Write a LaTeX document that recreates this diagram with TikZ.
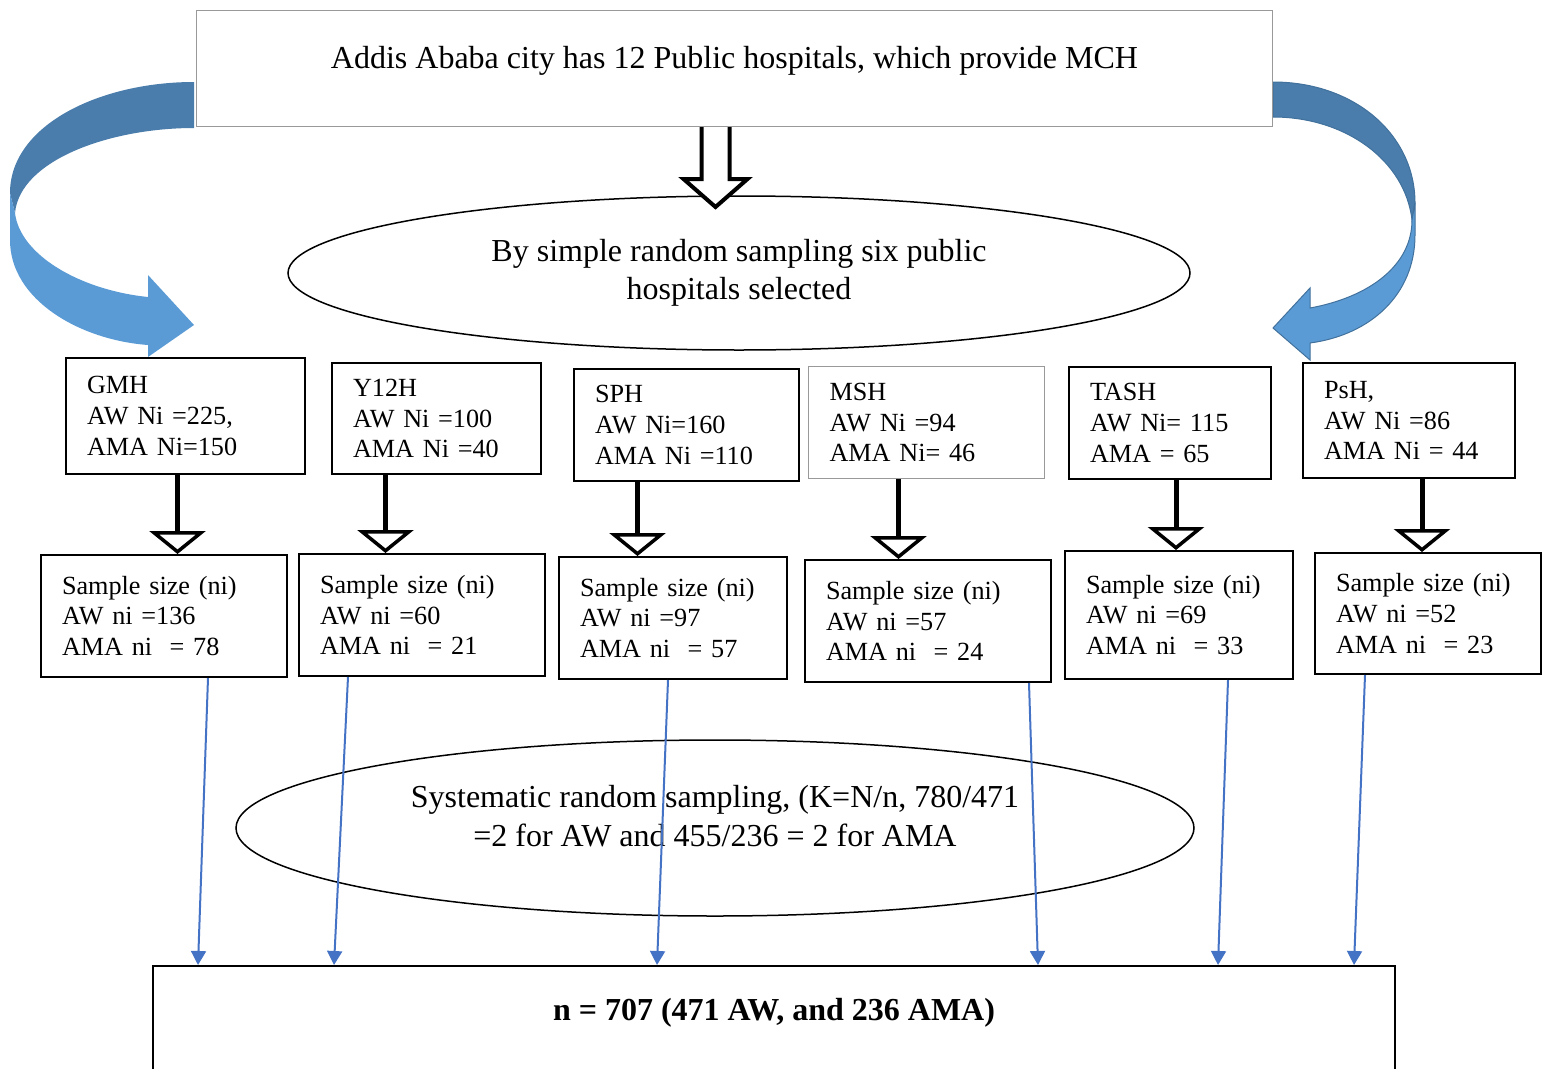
\documentclass[tikz,border=0pt]{standalone}
\usepackage{fontspec}
\setmainfont{Liberation Serif}
\usetikzlibrary{positioning,arrows.meta,calc,shapes.geometric}
\definecolor{bandDark}{HTML}{4A7DAB}
\definecolor{bandLight}{HTML}{5B9BD5}
\definecolor{bandEdge}{HTML}{41719C}
\definecolor{lineBlue}{HTML}{4472C4}
\tikzset{
  hosp/.style={draw, line width=2pt, fill=white, anchor=north west, align=left, inner xsep=21pt, inner ysep=0pt, font=\fontsize{26.2}{30.8}\selectfont},
  thinbox/.style={hosp, draw=gray!80, line width=1pt},
  oval/.style={draw, ellipse, line width=1.5pt, fill=white, inner sep=0pt, align=center, font=\fontsize{32}{38.5}\selectfont},
  bigtxt/.style={font=\fontsize{32}{38.5}\selectfont, align=center},
  down/.style={line width=5pt, -{Triangle[open, length=23pt, width=56pt, line width=3.5pt]}},
  hollow/.style={draw, line width=4pt, fill=white, miter limit=20},
  blu/.style={lineBlue, line width=2pt, -{Triangle[length=14pt, width=15pt]}},
}
\begin{document}
\begin{tikzpicture}[x=1pt, y=-1pt]
\useasboundingbox (0,0) rectangle (1549,1068);
\clip (0,0) rectangle (1549,1068);
% curved arrows round the top box
\fill[bandDark] (194,82) .. controls (100,82) and (10,125) .. (10,193) -- (15,213)
  .. controls (20,160) and (110,128) .. (194,128) -- cycle;
\fill[bandLight] (10,193) -- (10,240) .. controls (10,300) and (80,340) .. (148,345)
  -- (148,357) -- (194,325) -- (148,275) -- (148,297)
  .. controls (80,290) and (20,255) .. (15,213) -- cycle;
\filldraw[bandDark, draw=bandEdge, line width=1pt] (1273,82) .. controls (1355,82) and (1415,135) .. (1415,203)
  -- (1412,220) .. controls (1405,160) and (1345,117) .. (1273,117) -- cycle;
\filldraw[bandLight, draw=bandEdge, line width=1pt] (1415,203) -- (1415,235) .. controls (1415,295) and (1370,335) .. (1310,343)
  -- (1310,360) -- (1273,328) -- (1310,288) -- (1310,308)
  .. controls (1370,297) and (1412,265) .. (1412,220) -- cycle;

\node[draw=gray!80, line width=1pt, fill=white, anchor=north west, minimum width=1076pt, minimum height=116pt] (top) at (196,10) {};
\node[bigtxt] (toptxt) at ($(top.north)+(0,51)$) {Addis Ababa city has 12 Public hospitals, which provide MCH};
\node[oval, minimum width=902pt, minimum height=154pt] (sel) at (739,273) {By simple random sampling six public\\hospitals selected};
\coordinate (ax) at ($(top.south)+(-19,0)$);
\draw[hollow] ($(ax)+(-14,0)$) -- ++(0,52) -- ++(-18,0) -- ($(ax)+(0,80)$) -- ($(ax)+(32,52)$) -- ++(-18,0) -- ++(0,-52);

% hospitals
\node[hosp, text width=197pt, minimum height=116pt] (gmh) at (65,357) {GMH\\AW Ni =225,\\AMA Ni=150};
\node[hosp, text width=167pt, minimum height=111pt] (y12h) at (331,362) {Y12H\\AW Ni =100\\AMA Ni =40};
\node[hosp, text width=183pt, minimum height=112pt] (sph) at (573,368) {SPH\\AW Ni=160\\AMA Ni =110};
\node[thinbox, text width=194pt, minimum height=112pt] (msh) at (808,366) {MSH\\AW Ni =94\\AMA Ni= 46};
\node[hosp, text width=160pt, minimum height=112pt] (tash) at (1068,366) {TASH\\AW Ni= 115\\AMA = 65};
\node[hosp, text width=170pt, minimum height=115pt] (psh) at (1302,362) {PsH,\\AW Ni =86\\AMA Ni = 44};

% sample sizes
\node[hosp, text width=204pt, minimum height=122pt] (s1) at (40,554) {Sample size (ni)\\AW ni =136\\AMA ni \ = 78};
\node[hosp, text width=204pt, minimum height=122pt] (s2) at (298,553) {Sample size (ni)\\AW ni =60\\AMA ni \ = 21};
\node[hosp, text width=186pt, minimum height=122pt] (s3) at (558,556) {Sample size (ni)\\AW ni =97\\AMA ni \ = 57};
\node[hosp, text width=204pt, minimum height=122pt] (s4) at (804,559) {Sample size (ni)\\AW ni =57\\AMA ni \ = 24};
\node[hosp, text width=186pt, minimum height=128pt] (s5) at (1064,550) {Sample size (ni)\\AW ni =69\\AMA ni \ = 33};
\node[hosp, text width=184pt, minimum height=121pt] (s6) at (1314,552) {Sample size (ni)\\AW ni =52\\AMA ni \ = 23};

\coordinate (a1) at ($(gmh.south)+(-8,0)$);
\coordinate (a2) at ($(y12h.south)+(-51,0)$);
\coordinate (a3) at ($(sph.south)+(-49,0)$);
\coordinate (a4) at ($(msh.south)+(-28,0)$);
\coordinate (a5) at ($(tash.south)+(6,0)$);
\coordinate (a6) at ($(psh.south)+(13,0)$);
\draw[down] (a1) -- (a1 |- s1.north);
\draw[down] (a2) -- (a2 |- s2.north);
\draw[down] (a3) -- (a3 |- s3.north);
\draw[down] (a4) -- (a4 |- s4.north);
\draw[down] (a5) -- (a5 |- s5.north);
\draw[down] (a6) -- (a6 |- s6.north);

\node[oval, minimum width=958pt, minimum height=176pt] (sys) at (715,828) {};
\node[bigtxt] (systxt) at ($(sys.center)+(0,-12)$) {Systematic random sampling, (K=N/n, 780/471\\=2 for AW and 455/236 = 2 for AMA};

\node[draw, line width=2pt, fill=white, anchor=north west, minimum width=1242pt, minimum height=160pt] (total) at (152,965) {};
\node[bigtxt, font=\fontsize{32}{38.5}\selectfont\bfseries] (totaltxt) at ($(total.north)+(0,48)$) {n = 707 (471 AW, and 236 AMA)};

\draw[blu] ($(s1.south)+(44,0)$) -- ($(total.north west)+(46,0)$);
\draw[blu] ($(s2.south)+(-74,0)$) -- ($(total.north west)+(182,0)$);
\draw[blu] ($(s3.south)+(-5,0)$) -- ($(total.north west)+(505,0)$);
\draw[blu] ($(s4.south)+(101,0)$) -- ($(total.north west)+(886,0)$);
\draw[blu] ($(s5.south)+(49,0)$) -- ($(total.north west)+(1066,0)$);
\draw[blu] ($(s6.south)+(-63,0)$) -- ($(total.north west)+(1202,0)$);
\end{tikzpicture}
\end{document}
